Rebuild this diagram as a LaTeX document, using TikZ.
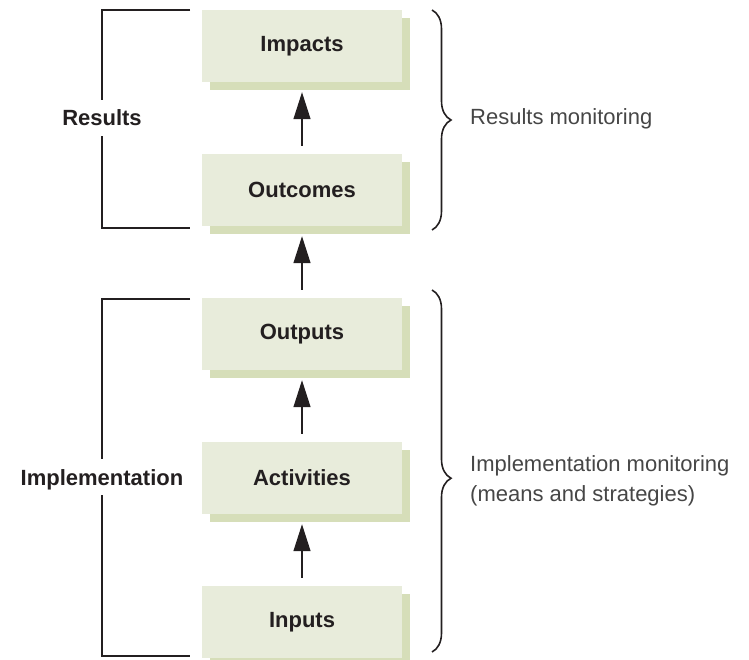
\documentclass[tikz,border=0pt]{standalone}
\usepackage{fontspec}
\setmainfont{Liberation Sans}
\usepackage{xcolor}
\usetikzlibrary{arrows.meta,positioning,shadows,decorations.pathreplacing}
\definecolor{boxgreen}{RGB}{232,236,219}
\definecolor{shadegreen}{RGB}{214,222,185}
\definecolor{inkdark}{RGB}{35,31,32}
\definecolor{inkgrey}{RGB}{70,70,70}

\begin{document}
\begin{tikzpicture}[>={Triangle[length=27pt,width=17pt]},node distance=144pt,on grid,x=1pt,y=1pt]
		\useasboundingbox (0,0) rectangle (749,-660);
		\tikzset{stage/.style={fill=boxgreen,minimum width=200pt,minimum height=72pt,inner sep=0pt,
			font=\fontsize{22}{26}\selectfont\bfseries,text=inkdark,
			drop shadow={shadow xshift=8pt,shadow yshift=-8pt,fill=shadegreen,opacity=1}}}
		\node[stage]          (impacts)    at (302,-46)            {Impacts};
		\node[stage]          (outcomes)   [below =of impacts]     {Outcomes};
		\node[stage]          (outputs)    [below =of outcomes]    {Outputs};
		\node[stage]          (activities) [below =of outputs]     {Activities};
		\node[stage]          (inputs)     [below =of activities]  {Inputs};
		\tikzset{flow/.style={->,line width=1.2pt,draw=inkdark,shorten <=8pt,shorten >=10pt}}
		\path (outcomes)   edge [flow] (impacts)
			  (outputs)    edge [flow] (outcomes)
			  (activities) edge [flow] (outputs)
			  (inputs)     edge [flow] (activities);

		% left brackets
		\tikzset{side/.style={font=\fontsize{22}{26}\selectfont\bfseries,text=inkdark,
			text height=16pt,text depth=0pt,inner xsep=0pt,inner ysep=10pt}}
		\tikzset{bracket/.style={line width=1.2pt,draw=inkdark}}
		\node[side]  (results)        at (102,-118)  {Results};
		\node[side]  (implementation) at (102,-477)  {Implementation};
		\coordinate (rtop) at (190,-10);
		\coordinate (rbot) at (190,-228);
		\coordinate (itop) at (190,-299);
		\coordinate (ibot) at (190,-656);
		\draw[bracket] (rtop) -| (results.north);
		\draw[bracket] (results.south) |- (rbot);
		\draw[bracket] (itop) -| (implementation.north);
		\draw[bracket] (implementation.south) |- (ibot);

		% right braces
		\tikzset{curly/.style={decorate,decoration={brace,amplitude=19pt},line width=1.6pt,draw=inkdark}}
		\tikzset{note/.style={anchor=west,inner sep=0pt,align=left,text=inkgrey,
			font=\fontsize{22}{30}\selectfont}}
		\coordinate (rbtop) at (432,-10);
		\coordinate (rbbot) at (432,-230);
		\coordinate (ibtop) at (432,-290);
		\coordinate (ibbot) at (432,-652);
		\draw[curly] (rbtop) -- (rbbot);
		\draw[curly,decoration={aspect=0.52}] (ibtop) -- (ibbot);
		\node[note]  (resmon)  at (470,-119)  {Results monitoring};
		\node[note]  (impmon)  at (470,-481)  {Implementation monitoring\\(means and strategies)};
	\end{tikzpicture}
\end{document}
